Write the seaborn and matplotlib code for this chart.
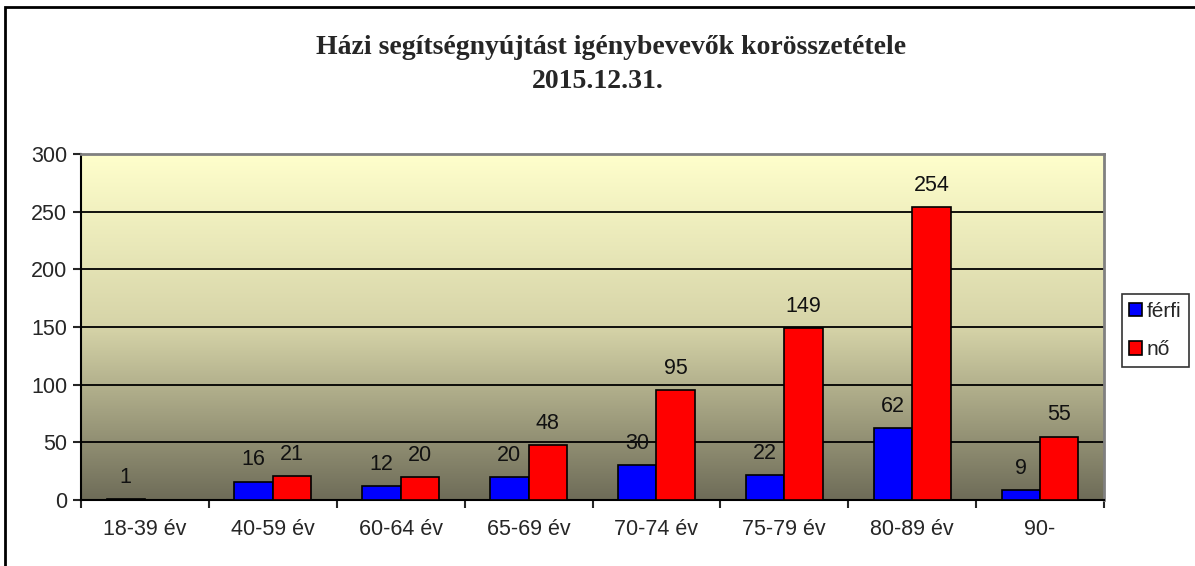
import numpy as np
import pandas as pd
import matplotlib
matplotlib.use('Agg')
from matplotlib import pyplot as plt
from matplotlib.patches import Rectangle
from matplotlib.colors import LinearSegmentedColormap
import seaborn as sns

# adatok
korcsoportok = ['18-39 év', '40-59 év', '60-64 év', '65-69 év', '70-74 év', '75-79 év', '80-89 év', '90-']
ferfi = [1, 16, 12, 20, 30, 22, 62, 9]
no = [np.nan, 21, 20, 48, 95, 149, 254, 55]

sns.set_style('white')
plt.rcParams['font.family'] = ['Liberation Sans', 'DejaVu Sans']

df = pd.DataFrame({
    'korcsoport': korcsoportok * 2,
    'nem': ['férfi'] * len(korcsoportok) + ['nő'] * len(korcsoportok),
    'fő': ferfi + no,
})

fig = plt.figure(figsize=(11.95, 5.66), dpi=100)
ax = fig.add_axes([81 / 1195, 66 / 566, 1023 / 1195, 346 / 566])

# színátmenetes háttér (felül világos, alul sötét)
cmap = LinearSegmentedColormap.from_list('bg', ['#FFFFCC', '#D6D4A8', '#6E6C58'])
grad = np.linspace(0, 1, 256).reshape(-1, 1)
ax.imshow(grad, cmap=cmap, aspect='auto', extent=[0, 1, 0, 1],
          transform=ax.transAxes, zorder=0, vmin=0, vmax=1)

sns.barplot(data=df, x='korcsoport', y='fő', hue='nem', ax=ax,
            palette={'férfi': '#0000FF', 'nő': '#FF0000'}, saturation=1,
            width=0.6, edgecolor='black', linewidth=1.2, zorder=3)

for cont in ax.containers:
    ax.bar_label(cont, fmt='%g', padding=8, fontsize=15.5, color='#111111')

ax.set_ylim(0, 300)
ax.set_xlim(-0.5, len(korcsoportok) - 0.5)
ax.set_yticks(range(0, 301, 50))
for y in range(50, 300, 50):
    ax.axhline(y, color='black', linewidth=1.3, zorder=1)

# osztásjelek a kategóriák között
ax.set_xticks(np.arange(-0.5, len(korcsoportok), 1))
ax.set_xticklabels([])
ax.set_xticks(range(len(korcsoportok)), minor=True)
ax.set_xticklabels(korcsoportok, minor=True, fontsize=15.5)
ax.tick_params(axis='x', which='major', length=6, width=1.5, direction='out', bottom=True)
ax.tick_params(axis='x', which='minor', length=0, pad=14)
ax.tick_params(axis='y', length=6, width=1.5, direction='out', left=True, labelsize=15.5, pad=4)
ax.set_xlabel('')
ax.set_ylabel('')

for s in ['left', 'bottom']:
    ax.spines[s].set_color('black')
    ax.spines[s].set_linewidth(1.5)
for s in ['top', 'right']:
    ax.spines[s].set_color('#808080')
    ax.spines[s].set_linewidth(2)

leg = ax.legend(loc='center left', bbox_to_anchor=(1041 / 1023, 0.49), fontsize=15,
                frameon=True, fancybox=False, edgecolor='black', handlelength=0.6,
                handleheight=0.6, handletextpad=0.25, borderpad=0.35, labelspacing=0.95,
                borderaxespad=0)
leg.get_frame().set_linewidth(1.2)

fig.text(0.511, 1 - 47 / 566, 'Házi segítségnyújtást igénybevevők korösszetétele',
         ha='center', va='center', fontsize=20, fontweight='bold', family='Liberation Serif')
fig.text(0.5, 1 - 82 / 566, '2015.12.31.', ha='center', va='center',
         fontsize=20, fontweight='bold', family='Liberation Serif')

# keret
fig.patches.append(Rectangle((5 / 1195, -0.05), 1.1, 1.05 - 7 / 566,
                             transform=fig.transFigure, fill=False,
                             edgecolor='black', linewidth=2))

fig.savefig('out.png', dpi=100)
